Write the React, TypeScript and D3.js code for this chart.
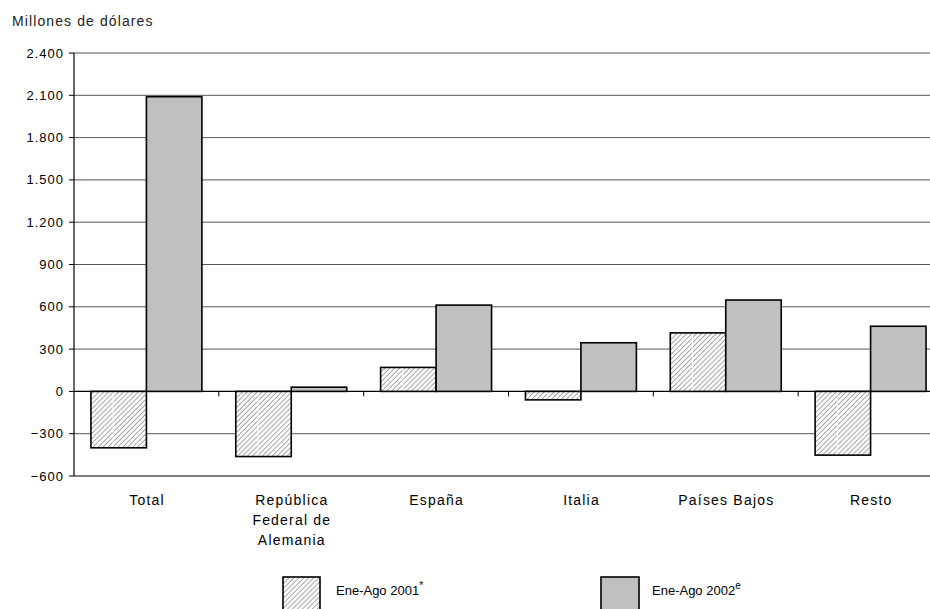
import React from "react";
import * as d3 from "d3";

const categories = ["Total", "República\nFederal de\nAlemania", "España", "Italia", "Países Bajos", "Resto"];
const series2001 = [-400, -462, 170, -60, 415, -452];
const series2002 = [2090, 30, 612, 345, 648, 462];
const yTicks = [-600, -300, 0, 300, 600, 900, 1200, 1500, 1800, 2100, 2400];
const seriesNames = ["Ene-Ago 2001", "Ene-Ago 2002"];
const seriesSup = ["*", "e"];

const W = 930;
const H = 609;
const left = 74;
const right = 943;
const top = 53;
const bottom = 476;

export default function App() {
  const y = d3.scaleLinear().domain([-600, 2400]).range([bottom, top]);
  const x = d3.scaleBand<number>().domain(d3.range(categories.length)).range([left, right]).paddingInner(0.234).paddingOuter(0.117);
  const fmt = (v: number) => d3.format(",")(v).replace(/,/g, ".");
  const bw = x.bandwidth() / 2;
  const step = x.step();
  const font = "Liberation Sans, Arial, sans-serif";
  return (
    <svg width={W} height={H} style={{ position: "absolute", left: 0, top: 0, background: "#fff" }}>
      <defs>
        <pattern id="hatch" width="3.5" height="3.5" patternUnits="userSpaceOnUse" patternTransform="rotate(45)">
          <rect width="3.5" height="3.5" fill="#fff" />
          <line x1="0" y1="0" x2="0" y2="3.5" stroke="#8a8a8a" strokeWidth="1.5" />
        </pattern>
      </defs>
      <text x={12} y={26} fontFamily={font} fontSize={14} letterSpacing={1.1} fill="#222">Millones de dólares</text>
      {yTicks.map((t) => (
        <g key={t}>
          {t !== -600 && t !== 0 && (
            <line x1={left} x2={W} y1={y(t)} y2={y(t)} stroke="#555" strokeWidth={1} />
          )}
          <line x1={left - 5} x2={left} y1={y(t)} y2={y(t)} stroke="#000" />
          <text x={64} y={y(t) + 4.5} textAnchor="end" fontFamily={font} fontSize={13} letterSpacing={1} fill="#000">{fmt(t)}</text>
        </g>
      ))}
      <line x1={left} x2={W} y1={y(-600)} y2={y(-600)} stroke="#000" strokeWidth={1.2} />
      <line x1={left} x2={W} y1={y(0)} y2={y(0)} stroke="#000" strokeWidth={1.2} />
      <line x1={left} x2={left} y1={top} y2={bottom} stroke="#000" strokeWidth={1.2} />
      {d3.range(1, categories.length + 1).map((i) => (
        <line key={i} x1={left + i * step} x2={left + i * step} y1={y(0)} y2={y(0) + 5} stroke="#000" />
      ))}
      {categories.map((c, i) => {
        const x0 = x(i)!;
        const v1 = series2001[i];
        const v2 = series2002[i];
        return (
          <g key={i}>
            <rect x={x0} width={bw} y={Math.min(y(v1), y(0))} height={Math.abs(y(v1) - y(0))} fill="url(#hatch)" stroke="#000" strokeWidth={1.6} />
            <line x1={x0 + bw * 0.4} x2={x0 + bw * 0.4} y1={Math.min(y(v1), y(0)) + 1} y2={Math.max(y(v1), y(0)) - 1} stroke="#fff" strokeWidth={1} />
            <rect x={x0 + bw} width={bw} y={Math.min(y(v2), y(0))} height={Math.abs(y(v2) - y(0))} fill="#c0c0c0" stroke="#000" strokeWidth={1.6} />
            <text x={x0 + bw} y={505} textAnchor="middle" fontFamily={font} fontSize={14} letterSpacing={1.2} fill="#000">
              {c.split("\n").map((ln, j) => (
                <tspan key={j} x={x0 + bw + 0.6} dy={j === 0 ? 0 : 20}>{ln}</tspan>
              ))}
            </text>
          </g>
        );
      })}
      <rect x={283} y={577} width={37} height={40} fill="url(#hatch)" stroke="#000" strokeWidth={1.6} />
      <text x={336} y={595} fontFamily={font} fontSize={13} fill="#000">{seriesNames[0]}<tspan dy={-6} fontSize={10}>{seriesSup[0]}</tspan></text>
      <rect x={601} y={577} width={38} height={40} fill="#c0c0c0" stroke="#000" strokeWidth={1.6} />
      <text x={652} y={595} fontFamily={font} fontSize={13} fill="#000">{seriesNames[1]}<tspan dy={-6} fontSize={10}>{seriesSup[1]}</tspan></text>
    </svg>
  );
}
